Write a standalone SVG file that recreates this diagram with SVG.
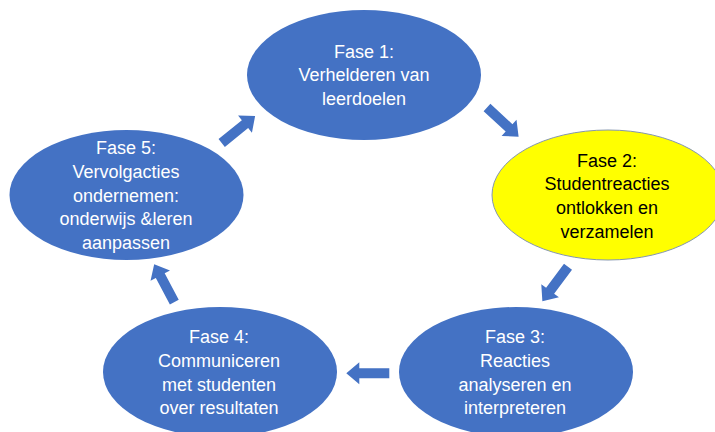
<svg xmlns="http://www.w3.org/2000/svg" width="715" height="432" viewBox="0 0 715 432">
<defs>
<style>
.blue{fill:#4472C4;}
.yellow{fill:#FFFF00;stroke:#8596B0;stroke-width:1;}
.arrow{fill:#4472C4;}
text{font-family:"Liberation Sans",Arial,sans-serif;font-size:18px;text-anchor:middle;}
.wt{fill:#FFFFFF;}
.bt{fill:#000000;}
</style>
<polygon id="blk" points="0,-5 30,-5 30,-11 43,0 30,11 30,5 0,5"/>
</defs>
<rect width="715" height="432" fill="#FFFFFF"/>
<g id="connectors">
<use href="#blk" class="arrow" transform="translate(487,107.5) rotate(42.7)"/>
<use href="#blk" class="arrow" transform="translate(568,266.7) rotate(126.6)"/>
<use href="#blk" class="arrow" transform="translate(389.3,373.3) rotate(180)"/>
<use href="#blk" class="arrow" transform="translate(174.3,302.2) rotate(-117.9)"/>
<use href="#blk" class="arrow" transform="translate(221.7,143) rotate(-39)"/>
</g>
<g id="fase1">
<ellipse class="blue" cx="364" cy="75" rx="117" ry="65"/>
<text class="wt" x="364" y="58">Fase 1:</text>
<text class="wt" x="364" y="81">Verhelderen van</text>
<text class="wt" x="364" y="105">leerdoelen</text>
</g>
<g id="fase2">
<ellipse class="yellow" cx="608" cy="195" rx="116" ry="65"/>
<text class="bt" x="607" y="167">Fase 2:</text>
<text class="bt" x="607" y="190">Studentreacties</text>
<text class="bt" x="607" y="214">ontlokken en</text>
<text class="bt" x="607" y="238">verzamelen</text>
</g>
<g id="fase3">
<ellipse class="blue" cx="516" cy="372" rx="117" ry="65"/>
<text class="wt" x="515" y="343">Fase 3:</text>
<text class="wt" x="515" y="367">Reacties</text>
<text class="wt" x="515" y="391">analyseren en</text>
<text class="wt" x="515" y="414">interpreteren</text>
</g>
<g id="fase4">
<ellipse class="blue" cx="220" cy="372" rx="117" ry="65"/>
<text class="wt" x="219" y="343">Fase 4:</text>
<text class="wt" x="219" y="367">Communiceren</text>
<text class="wt" x="219" y="391">met studenten</text>
<text class="wt" x="219" y="414">over resultaten</text>
</g>
<g id="fase5">
<ellipse class="blue" cx="126.5" cy="195" rx="117" ry="65"/>
<text class="wt" x="126" y="154">Fase 5:</text>
<text class="wt" x="126" y="178">Vervolgacties</text>
<text class="wt" x="126" y="202">ondernemen:</text>
<text class="wt" x="126" y="225">onderwijs &amp;leren</text>
<text class="wt" x="126" y="249">aanpassen</text>
</g>
</svg>
